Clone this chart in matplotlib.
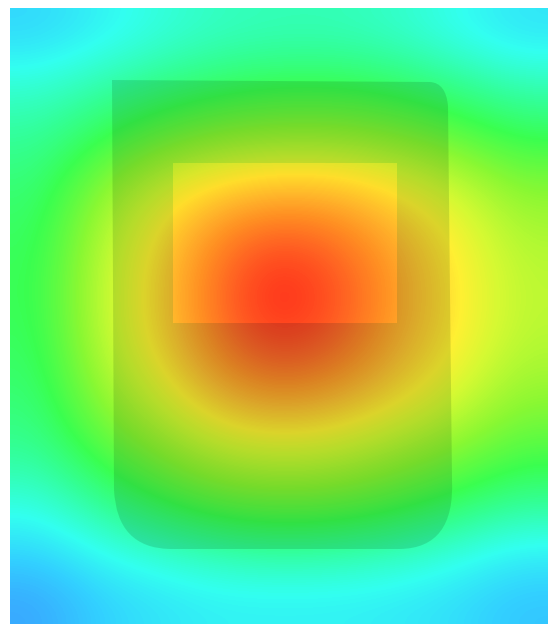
import numpy as np
import matplotlib
matplotlib.use("Agg")
import matplotlib.pyplot as plt
from matplotlib.colors import LinearSegmentedColormap
from matplotlib.path import Path
from matplotlib.patches import PathPatch, Rectangle

# sample points of the field (pixel positions) and values
xs = [10, 75, 140, 210, 285, 360, 430, 490, 548]
ys = [8, 60, 120, 180, 235, 290, 345, 400, 455, 510, 570, 624]
field = [
    [0.11, 0.15, 0.19, 0.22, 0.23, 0.23, 0.21, 0.17, 0.13],
    [0.20, 0.24, 0.28, 0.31, 0.33, 0.33, 0.31, 0.27, 0.23],
    [0.26, 0.33, 0.40, 0.45, 0.47, 0.47, 0.44, 0.39, 0.33],
    [0.30, 0.44, 0.56, 0.64, 0.68, 0.67, 0.61, 0.54, 0.44],
    [0.32, 0.50, 0.64, 0.79, 0.87, 0.82, 0.71, 0.61, 0.50],
    [0.33, 0.52, 0.66, 0.83, 1.00, 0.88, 0.74, 0.63, 0.52],
    [0.32, 0.51, 0.65, 0.81, 0.92, 0.85, 0.72, 0.62, 0.51],
    [0.30, 0.46, 0.58, 0.71, 0.77, 0.73, 0.65, 0.56, 0.46],
    [0.27, 0.38, 0.47, 0.56, 0.59, 0.57, 0.51, 0.45, 0.38],
    [0.20, 0.28, 0.35, 0.41, 0.43, 0.42, 0.38, 0.33, 0.28],
    [0.12, 0.18, 0.22, 0.25, 0.27, 0.26, 0.24, 0.20, 0.16],
    [0.03, 0.10, 0.13, 0.15, 0.15, 0.15, 0.14, 0.12, 0.08],
]

stops = [0.0, 0.1, 0.17, 0.26, 0.34, 0.45, 0.55, 0.62, 0.7, 0.78, 0.86, 0.93, 1.0]
stop_colors = ["#3c96ff", "#32d2ff", "#32fff0", "#32ff9a", "#3aff50", "#8cf832",
               "#d2fa32", "#fff032", "#ffbe32", "#ff8c28", "#ff5a28", "#ff3223",
               "#ff2823"]
cmap = LinearSegmentedColormap.from_list("heat", list(zip(stops, stop_colors)))

fig = plt.figure(figsize=(5.48, 6.24), dpi=100)
ax = fig.add_axes([0, 0, 1, 1])
ax.set_xlim(0, 548)
ax.set_ylim(624, 0)
ax.axis("off")

ax.imshow(np.array(field), cmap=cmap, vmin=0, vmax=1, interpolation="bicubic",
          extent=(xs[0], xs[-1], ys[-1], ys[0]), aspect="auto")

# device outline (darker area) with the inner rectangle cut out
outline = [(112, 80), (430, 82), (446, 83), (448, 106), (452, 480),
           (455, 548), (400, 549), (170, 549), (117, 548), (114, 490), (112, 80)]
codes = [Path.MOVETO, Path.LINETO, Path.CURVE3, Path.CURVE3, Path.LINETO,
         Path.CURVE3, Path.CURVE3, Path.LINETO, Path.CURVE3, Path.CURVE3, Path.CLOSEPOLY]
hole = [(173, 163), (173, 323), (397, 323), (397, 163), (173, 163)]
hole_codes = [Path.MOVETO, Path.LINETO, Path.LINETO, Path.LINETO, Path.CLOSEPOLY]
device = Path(outline + hole, codes + hole_codes)
ax.add_patch(PathPatch(device, facecolor="#003000", edgecolor="none", alpha=0.14))

ax.add_patch(Rectangle((173, 163), 224, 160, facecolor="#ff7a00",
                       edgecolor="none", alpha=0.15))

fig.savefig("out.png", dpi=100, facecolor="white")
